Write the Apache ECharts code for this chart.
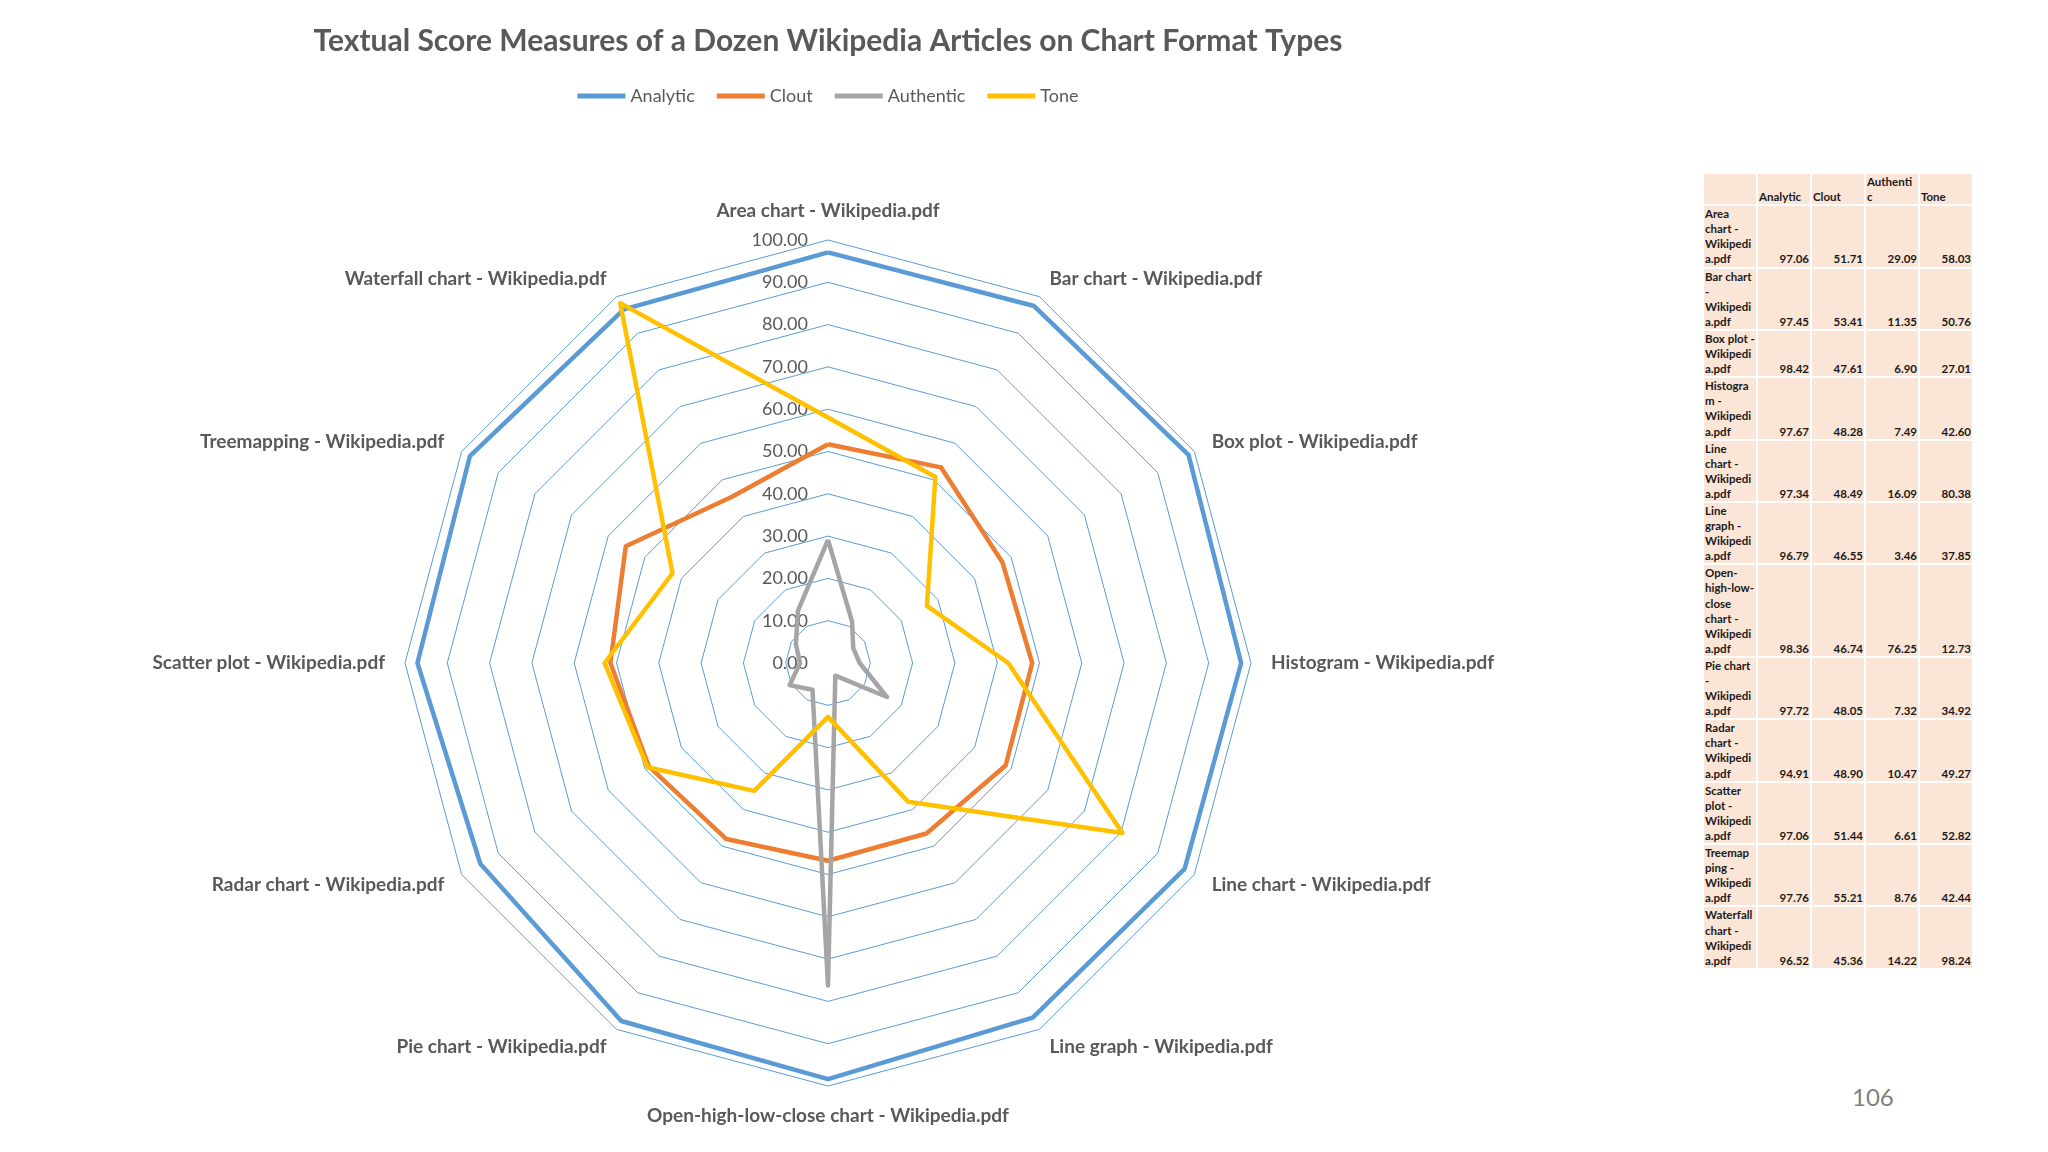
<!DOCTYPE html>
<html>
<head>
<meta charset="utf-8">
<script src="https://cdn.jsdelivr.net/npm/echarts@6/dist/echarts.min.js"></script>
<style>
  html, body { margin: 0; padding: 0; background: #fff; }
  #chart { position: absolute; left: 0; top: 0; width: 1656px; height: 1152px; }
  #tbl { position: absolute; left: 1702px; top: 172px; border-collapse: separate; border-spacing: 2px;
         font-family: Lato, 'Liberation Sans', sans-serif; font-weight: bold; font-size: 11.5px; color: #1a1a1a; }
  #tbl td { background: #fbe5d6; width: 52px; padding: 0 1px; line-height: 15.1px; vertical-align: bottom;
            white-space: pre-line; box-sizing: border-box; }
  #tbl td.num { text-align: right; }
  #page { position: absolute; left: 1852px; top: 1082px; font-family: Lato, sans-serif; font-size: 24px; color: #7f7f7f; }
</style>
</head>
<body>
<div id="chart"></div>
<table id="tbl"></table>
<div id="page">106</div>
<script>
const categories = ['Area chart - Wikipedia.pdf', 'Bar chart - Wikipedia.pdf', 'Box plot - Wikipedia.pdf',
  'Histogram - Wikipedia.pdf', 'Line chart - Wikipedia.pdf', 'Line graph - Wikipedia.pdf',
  'Open-high-low-close chart - Wikipedia.pdf', 'Pie chart - Wikipedia.pdf', 'Radar chart - Wikipedia.pdf',
  'Scatter plot - Wikipedia.pdf', 'Treemapping - Wikipedia.pdf', 'Waterfall chart - Wikipedia.pdf'];
// row labels as they wrap in the side table
const tableLabels = ['Area\nchart -\nWikipedi\na.pdf', 'Bar chart\n-\nWikipedi\na.pdf', 'Box plot -\nWikipedi\na.pdf',
  'Histogra\nm -\nWikipedi\na.pdf', 'Line\nchart -\nWikipedi\na.pdf', 'Line\ngraph -\nWikipedi\na.pdf',
  'Open-\nhigh-low-\nclose\nchart -\nWikipedi\na.pdf', 'Pie chart\n-\nWikipedi\na.pdf', 'Radar\nchart -\nWikipedi\na.pdf',
  'Scatter\nplot -\nWikipedi\na.pdf', 'Treemap\nping -\nWikipedi\na.pdf', 'Waterfall\nchart -\nWikipedi\na.pdf'];
const seriesNames = ['Analytic', 'Clout', 'Authentic', 'Tone'];
const tableHeaders = ['Analytic', 'Clout', 'Authenti\nc', 'Tone'];
const analytic = [97.06, 97.45, 98.42, 97.67, 97.34, 96.79, 98.36, 97.72, 94.91, 97.06, 97.76, 96.52];
const clout = [51.71, 53.41, 47.61, 48.28, 48.49, 46.55, 46.74, 48.05, 48.90, 51.44, 55.21, 45.36];
const authentic = [29.09, 11.35, 6.90, 7.49, 16.09, 3.46, 76.25, 7.32, 10.47, 6.61, 8.76, 14.22];
const tone = [58.03, 50.76, 27.01, 42.60, 80.38, 37.85, 12.73, 34.92, 49.27, 52.82, 42.44, 98.24];
const colors = ['#5b9bd5', '#ed7d31', '#a5a5a5', '#ffc000'];

// echarts radar runs counter-clockwise, excel clockwise: keep first, reverse the rest
const order = [0];
for (let i = categories.length - 1; i > 0; i--) order.push(i);
const pick = arr => order.map(i => arr[i]);

const indicators = pick(categories).map((name, i) => {
  let ind = { name: name, min: 0, max: 100 };
  ind.axisLabel = { show: i === 0 };
  return ind;
});

const allSeries = [analytic, clout, authentic, tone];

let chart = echarts.init(document.getElementById('chart'));
chart.setOption({
  color: colors,
  textStyle: { fontFamily: 'Lato' },
  title: {
    text: 'Textual Score Measures of a Dozen Wikipedia Articles on Chart Format Types',
    left: 'center', top: 21,
    textStyle: { fontSize: 30, fontWeight: 'bold', color: '#595959', fontFamily: 'Lato' }
  },
  legend: {
    top: 82, left: 'center',
    icon: 'rect',
    itemWidth: 48, itemHeight: 5, itemGap: 22,
    data: seriesNames,
    textStyle: { fontSize: 18, color: '#595959' }
  },
  radar: {
    center: ['50%', 663],
    radius: 423,
    startAngle: 90,
    shape: 'polygon',
    splitNumber: 10,
    nameGap: 20,
    indicator: indicators,
    axisName: { color: '#595959', fontSize: 19, fontWeight: 'bold', fontFamily: 'Lato' },
    axisLine: { show: false },
    axisTick: { show: false },
    splitArea: { show: false },
    splitLine: { lineStyle: { color: '#5b9bd5', width: 1 } },
    axisLabel: {
      show: false, showMinLabel: true, showMaxLabel: true,
      color: '#595959', fontSize: 18, margin: 20,
      formatter: v => v.toFixed(2)
    }
  },
  series: [{
    type: 'radar',
    symbol: 'none',
    lineStyle: { width: 4.5 },
    data: allSeries.map((s, k) => ({
      name: seriesNames[k],
      value: pick(s),
      lineStyle: { color: colors[k], width: 4.5 }
    }))
  }]
});

// side table
const tbl = document.getElementById('tbl');
let head = '<tr><td></td>' + tableHeaders.map(h => '<td>' + h + '</td>').join('') + '</tr>';
let rows = tableLabels.map((lab, i) =>
  '<tr><td>' + lab + '</td>' + allSeries.map(s => '<td class="num">' + s[i].toFixed(2) + '</td>').join('') + '</tr>');
tbl.innerHTML = head + rows.join('');
</script>
</body>
</html>
